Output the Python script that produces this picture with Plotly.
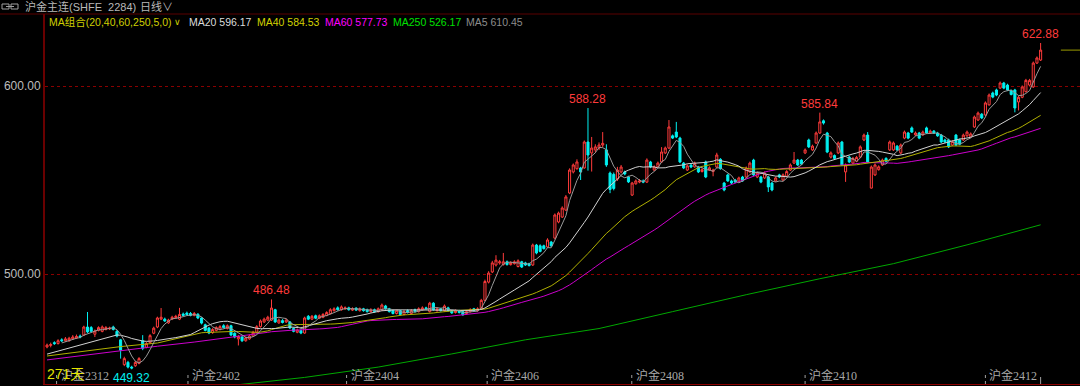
import pandas as pd
import plotly.graph_objects as go

# ---------------- data ----------------
opens = [
    461.2, 462.0, 463.5, 463.0, 465.0, 464.5, 464.5, 465.5, 466.0, 467.0,
    467.5, 471.8, 471.5, 468.0, 470.0, 469.5, 470.5, 470.8, 471.8, 469.5,
    465.0, 451.8, 453.0, 450.5, 451.2, 452.5, 464.5, 461.0, 463.5, 468.5,
    471.8, 476.0, 476.0, 474.0, 476.0, 476.8, 476.0, 478.7, 479.2, 479.0,
    478.0, 478.6, 476.6, 473.0, 471.3, 468.8, 470.0, 470.5, 472.5, 471.0,
    472.5, 468.5, 465.5, 466.5, 464.5, 465.5, 467.0, 469.0, 472.0, 474.5,
    475.5, 475.5, 481.0, 474.0, 475.2, 474.5, 474.5, 471.0, 469.0, 470.0,
    468.6, 477.5, 476.0, 477.8, 476.5, 477.0, 478.0, 479.0, 480.5, 482.0,
    481.0, 481.5, 482.0, 480.8, 481.8, 480.5, 481.5, 481.0, 480.0, 481.0,
    480.0, 481.0, 483.0, 481.5, 480.8, 479.0, 480.5, 478.5, 480.5, 479.0,
    481.0, 480.0, 481.0, 482.0, 480.0, 484.5, 480.5, 481.5, 480.5, 482.0,
    480.5, 479.5, 480.5, 480.0, 479.0, 480.0, 481.5, 480.5, 481.5, 486.0,
    495.7, 501.1, 504.8, 505.9, 505.0, 506.5, 505.0, 505.5, 504.0, 506.5,
    505.9, 505.5, 504.8, 515.4, 515.0, 515.0, 514.4, 517.0, 519.1, 527.7,
    530.3, 534.0, 543.1, 554.3, 556.0, 556.4, 556.4, 570.2, 564.4, 566.0,
    567.0, 568.6, 566.0, 553.7, 553.0, 550.5, 554.3, 554.3, 551.6, 542.0,
    548.0, 548.9, 549.5, 548.9, 559.6, 555.3, 557.0, 559.6, 564.4, 567.0,
    573.5, 575.5, 572.3, 559.0, 555.3, 557.9, 557.0, 556.9, 554.5, 559.6,
    555.3, 554.5, 556.9, 561.0, 548.4, 552.7, 549.5, 550.0, 549.5, 551.6,
    551.6, 554.3, 560.6, 551.6, 551.6, 551.1, 551.6, 548.4, 549.5, 552.7,
    550.0, 552.0, 555.3, 559.0, 560.6, 560.6, 564.4, 571.3, 566.0, 569.7,
    575.0, 581.5, 575.0, 562.2, 563.0, 564.4, 570.2, 554.3, 562.2, 559.0,
    560.0, 562.2, 571.3, 573.9, 545.7, 552.7, 555.5, 558.0, 561.5, 566.0,
    566.0, 568.0, 564.4, 572.3, 575.0, 577.7, 574.0, 575.0, 574.0, 577.7,
    575.0, 576.0, 575.0, 573.9, 571.3, 571.3, 568.6, 573.9, 571.3, 571.3,
    573.5, 573.0, 578.2, 581.9, 585.0, 584.6, 590.0, 596.3, 597.9, 598.9,
    601.6, 600.5, 597.5, 597.9, 591.5, 594.0, 597.0, 600.5, 599.5, 612.2,
    613.8,
]

closes = [
    462.2, 462.5, 463.0, 464.5, 464.5, 465.5, 465.8, 466.5, 466.8, 466.5,
    471.8, 469.2, 469.5, 469.7, 471.5, 471.8, 471.5, 471.2, 470.5, 467.0,
    459.5, 455.0, 450.5, 450.0, 453.0, 455.0, 460.5, 463.0, 467.2, 471.2,
    476.6, 477.0, 475.0, 475.5, 477.0, 477.5, 478.5, 478.0, 478.5, 478.0,
    479.0, 476.6, 473.9, 470.0, 468.6, 470.5, 471.5, 472.0, 471.5, 472.5,
    467.6, 466.5, 466.8, 464.5, 466.0, 467.0, 469.0, 472.0, 475.0, 476.0,
    477.0, 481.9, 474.5, 475.5, 474.2, 475.5, 471.3, 469.5, 470.2, 468.6,
    476.6, 476.0, 477.5, 476.5, 477.8, 478.5, 479.5, 481.0, 481.5, 481.0,
    482.5, 482.0, 481.0, 481.5, 480.8, 481.5, 480.5, 480.0, 481.0, 480.0,
    481.5, 483.5, 481.5, 480.0, 479.0, 480.5, 478.5, 480.0, 479.5, 480.5,
    480.0, 481.5, 482.0, 481.5, 484.5, 481.0, 481.5, 480.5, 483.0, 480.5,
    479.3, 480.5, 479.5, 478.3, 480.0, 481.0, 480.5, 481.5, 486.0, 496.0,
    500.5, 505.9, 507.4, 506.5, 506.5, 505.0, 506.0, 506.5, 507.0, 503.7,
    504.8, 504.5, 515.4, 511.2, 512.0, 513.5, 518.1, 515.0, 531.4, 532.4,
    535.1, 541.0, 555.3, 558.0, 559.6, 554.3, 570.2, 563.3, 567.0, 567.6,
    568.6, 569.5, 558.0, 545.0, 545.5, 555.3, 556.9, 553.2, 549.0, 548.4,
    549.5, 549.5, 548.9, 560.6, 556.9, 556.9, 559.0, 564.9, 567.0, 578.2,
    572.3, 572.9, 559.6, 556.4, 557.5, 556.9, 559.0, 554.3, 555.5, 551.6,
    556.5, 555.3, 563.3, 556.0, 544.7, 549.5, 548.4, 548.9, 551.1, 549.5,
    556.4, 559.0, 552.7, 553.7, 548.9, 553.7, 546.3, 544.7, 551.1, 551.6,
    552.7, 554.5, 558.0, 560.6, 558.0, 558.5, 566.0, 567.6, 568.0, 575.0,
    580.9, 580.3, 564.9, 564.4, 561.5, 569.7, 558.0, 558.0, 559.6, 561.5,
    562.0, 567.6, 573.9, 559.6, 556.9, 558.0, 557.0, 560.6, 560.0, 570.2,
    569.7, 566.0, 568.6, 575.5, 572.3, 575.5, 575.0, 572.3, 575.5, 575.0,
    576.0, 575.0, 573.5, 570.2, 570.2, 567.6, 570.5, 568.6, 569.0, 573.9,
    575.5, 574.5, 583.5, 585.6, 583.0, 591.0, 595.2, 594.1, 595.2, 601.6,
    598.9, 597.9, 595.5, 588.3, 594.0, 599.5, 603.0, 603.0, 612.2, 614.9,
    619.1,
]

highs = [
    463.0, 463.5, 464.2, 465.3, 465.8, 466.5, 466.6, 467.5, 467.8, 467.8,
    472.5, 479.8, 472.3, 470.5, 472.2, 472.6, 472.3, 472.0, 472.5, 470.2,
    465.5, 456.0, 453.8, 451.2, 453.8, 455.8, 467.5, 463.8, 468.0, 472.0,
    477.3, 481.9, 476.8, 476.2, 477.8, 478.3, 482.0, 479.5, 480.0, 479.8,
    479.8, 479.2, 477.0, 473.6, 471.8, 471.2, 472.2, 472.8, 473.3, 473.2,
    473.0, 469.0, 467.5, 467.0, 466.8, 467.8, 469.8, 472.8, 475.8, 476.8,
    477.8, 486.48, 481.5, 476.3, 476.0, 476.3, 475.0, 471.6, 471.0, 470.5,
    477.3, 478.2, 478.2, 478.4, 478.5, 479.2, 480.2, 481.8, 482.3, 482.8,
    483.3, 482.8, 482.6, 482.3, 482.4, 482.2, 482.0, 481.6, 481.8, 481.6,
    482.2, 484.3, 483.6, 482.0, 481.3, 481.2, 481.0, 480.8, 481.2, 481.3,
    481.6, 482.3, 482.8, 482.6, 485.2, 485.0, 482.3, 482.0, 483.8, 482.6,
    481.0, 481.2, 481.0, 480.5, 480.8, 481.8, 482.0, 482.3, 486.8, 497.0,
    501.5, 507.0, 510.0, 507.5, 511.2, 507.2, 506.8, 507.3, 507.8, 507.0,
    506.5, 506.0, 516.2, 516.0, 515.8, 515.6, 519.0, 517.6, 532.2, 533.2,
    536.0, 542.0, 556.2, 558.8, 561.0, 557.0, 571.0, 588.28, 572.9, 569.0,
    570.0, 575.5, 569.0, 554.5, 554.0, 557.0, 558.0, 555.0, 552.3, 549.0,
    550.3, 550.5, 550.3, 561.5, 560.2, 557.8, 559.8, 567.5, 567.8, 581.9,
    574.2, 580.9, 573.0, 559.6, 558.3, 558.5, 559.8, 557.5, 556.3, 560.3,
    557.3, 556.0, 564.5, 561.6, 549.0, 553.3, 550.2, 550.6, 551.8, 552.2,
    557.2, 559.8, 561.3, 554.5, 552.2, 554.5, 552.2, 549.0, 551.8, 553.3,
    553.5, 555.3, 558.8, 564.9, 561.2, 561.2, 566.8, 572.0, 568.8, 575.8,
    585.84, 582.2, 575.6, 565.2, 563.6, 570.5, 570.8, 558.8, 562.8, 562.3,
    562.8, 568.4, 574.7, 575.5, 557.7, 558.8, 557.8, 561.4, 562.1, 571.0,
    570.5, 568.6, 569.4, 576.3, 575.6, 578.5, 575.8, 575.6, 576.3, 578.4,
    576.8, 576.6, 575.6, 574.5, 572.0, 572.0, 571.3, 574.5, 572.0, 574.7,
    576.3, 575.3, 584.3, 586.4, 585.6, 591.8, 596.0, 597.0, 598.6, 602.4,
    602.2, 601.2, 598.1, 598.5, 594.8, 600.3, 603.8, 603.8, 613.0, 615.7,
    622.88,
]

lows = [
    460.5, 461.0, 462.3, 462.5, 463.8, 464.0, 464.0, 465.0, 465.5, 465.8,
    467.0, 468.5, 469.0, 466.5, 469.5, 469.0, 470.0, 470.2, 470.0, 466.3,
    455.0, 451.0, 449.8, 449.32, 450.6, 452.0, 459.5, 460.5, 463.0, 468.0,
    471.2, 475.5, 474.5, 473.5, 475.5, 476.2, 475.5, 477.5, 478.0, 477.5,
    477.5, 476.0, 473.2, 469.5, 468.0, 468.2, 469.5, 470.0, 471.0, 470.5,
    467.0, 465.8, 462.0, 463.8, 464.0, 465.0, 466.5, 468.5, 471.5, 474.0,
    475.0, 475.0, 474.0, 473.5, 473.7, 474.0, 470.8, 469.0, 468.5, 468.0,
    468.2, 475.5, 475.5, 476.0, 476.0, 476.5, 477.5, 478.5, 480.0, 480.5,
    480.5, 481.0, 480.5, 480.3, 480.3, 480.0, 480.0, 479.5, 479.5, 479.5,
    479.5, 480.5, 481.0, 479.5, 478.5, 478.5, 478.0, 478.0, 479.0, 478.5,
    479.5, 479.5, 480.5, 481.0, 479.5, 480.5, 480.0, 480.0, 480.0, 480.0,
    478.8, 479.0, 479.0, 477.8, 478.5, 479.5, 480.0, 480.0, 481.0, 485.5,
    495.0, 500.5, 504.0, 505.0, 504.5, 504.5, 504.5, 505.0, 503.5, 503.2,
    504.3, 504.0, 504.3, 510.5, 511.5, 513.0, 514.0, 514.5, 518.5, 527.0,
    529.8, 533.5, 542.5, 553.5, 555.5, 550.0, 556.0, 555.0, 554.5, 564.5,
    566.0, 567.5, 557.0, 543.0, 544.5, 549.5, 553.5, 552.5, 548.4, 541.5,
    547.5, 548.3, 548.3, 548.4, 556.3, 554.8, 556.5, 559.0, 563.8, 566.5,
    571.8, 572.3, 559.0, 555.8, 554.8, 556.3, 556.5, 553.7, 554.0, 551.0,
    554.8, 552.0, 556.3, 555.5, 544.0, 549.0, 547.8, 548.3, 549.0, 549.0,
    551.0, 553.8, 552.0, 551.0, 548.3, 550.5, 543.6, 544.0, 549.0, 551.0,
    549.5, 551.5, 554.8, 558.5, 557.5, 558.0, 563.8, 567.0, 565.5, 569.2,
    574.5, 579.5, 564.3, 561.5, 561.0, 563.8, 557.5, 549.0, 559.0, 558.5,
    559.5, 561.6, 570.7, 559.0, 545.5, 552.2, 555.0, 557.5, 559.5, 565.5,
    565.5, 565.5, 563.8, 571.7, 571.7, 575.0, 573.5, 571.7, 573.5, 574.5,
    574.5, 574.5, 573.0, 569.7, 569.7, 567.0, 568.0, 568.0, 568.5, 570.8,
    573.0, 572.5, 577.7, 581.4, 582.4, 584.0, 589.5, 593.5, 594.6, 598.4,
    598.3, 597.3, 595.0, 586.0, 587.0, 593.5, 596.5, 600.0, 599.0, 611.7,
    613.3,
]

# moving-average values before enough candles exist
ma20_head_idx = [0, 6, 12, 18]
ma20_head_val = [457.4, 460.6, 463.8, 467.4]
ma40_head_idx = [0, 10, 20, 30, 38]
ma40_head_val = [456.4, 459.0, 461.4, 463.3, 467.0]
ma60_head_idx = [0, 10, 20, 30, 40, 50, 58]
ma60_head_val = [454.3, 456.8, 459.3, 461.6, 463.8, 466.2, 468.3]
ma250_idx = [50, 70, 90, 110, 130, 150, 170, 190, 210, 230, 250, 270]
ma250_val = [440.7, 445.0, 450.5, 457.5, 465.0, 471.0, 480.0, 489.0, 497.5, 505.5, 515.5, 526.17]

# header legend
legend_names = ["MA20", "MA40", "MA60", "MA250", "MA5"]
legend_values = [596.17, 584.53, 577.73, 526.17, 610.45]

# contract-roll labels on the time axis
roll_labels = ["沪金2312", "沪金2402", "沪金2404", "沪金2406", "沪金2408", "沪金2410", "沪金2412"]
roll_idx = [2.6, 38.3, 81.4, 119.6, 158.9, 206.0, 255.0]

peak_idx = [61, 147, 210, 270]
trough_idx = [23]
day_count = "271天"

# ---------------- styling ----------------
W, H = 1080, 386
ML, MR, MT, MB = 45, 0, 14, 2
PW, PH = W - ML - MR, H - MT - MB

def px(xp):
    return (xp - ML) / PW

def py(yp):
    return (H - MB - yp) / PH

UP = "#ff3b3b"
DOWN = "#00f0f0"
C_MA5 = "#9a9a9a"
C_MA20 = "#d2d2d2"
C_MA40 = "#b0b000"
C_MA60 = "#cc00cc"
C_MA250 = "#00a800"
DARKRED = "#6a0000"
HDR_FONT = "Liberation Sans, Noto Sans CJK SC"

n = len(closes)
idx = list(range(n))
s = pd.Series(closes)

def ma_trace(window, head_idx, head_val):
    r = s.rolling(window).mean()
    xs = list(head_idx) + idx[window - 1:]
    ys = list(head_val) + r.iloc[window - 1:].tolist()
    return xs, ys

fig = go.Figure()

fig.add_trace(go.Scatter(x=ma250_idx, y=ma250_val, mode="lines", line=dict(color=C_MA250, width=1),
                         hoverinfo="skip", showlegend=False))
for w, hi, hv, col in [(60, ma60_head_idx, ma60_head_val, C_MA60),
                       (40, ma40_head_idx, ma40_head_val, C_MA40),
                       (20, ma20_head_idx, ma20_head_val, C_MA20)]:
    xs, ys = ma_trace(w, hi, hv)
    fig.add_trace(go.Scatter(x=xs, y=ys, mode="lines", line=dict(color=col, width=1),
                             hoverinfo="skip", showlegend=False))
ma5 = s.rolling(5).mean()
fig.add_trace(go.Scatter(x=idx[4:], y=ma5.iloc[4:].tolist(), mode="lines",
                         line=dict(color=C_MA5, width=1), hoverinfo="skip", showlegend=False))

fig.add_trace(go.Candlestick(
    x=idx, open=opens, high=highs, low=lows, close=closes,
    increasing=dict(line=dict(color=UP, width=1), fillcolor="#000000"),
    decreasing=dict(line=dict(color=DOWN, width=1), fillcolor=DOWN),
    whiskerwidth=0, hoverinfo="skip", showlegend=False,
))

ann = []
for i in peak_idx:
    ann.append(dict(x=i, y=highs[i], xref="x", yref="y", text=f"{highs[i]:.2f}",
                    showarrow=False, yanchor="bottom", xanchor="center",
                    font=dict(family="Liberation Sans", size=12, color=UP)))
for i in trough_idx:
    ann.append(dict(x=i, y=lows[i], xref="x", yref="y", text=f"{lows[i]:.2f}",
                    showarrow=False, yanchor="top", xanchor="center",
                    font=dict(family="Liberation Sans", size=12, color=DOWN)))

shapes = []
for lab, xi in zip(roll_labels, roll_idx):
    ann.append(dict(x=xi, y=0, xref="x", yref="paper", text=lab, showarrow=False,
                    xanchor="left", yanchor="bottom", xshift=2, yshift=-1,
                    font=dict(family="Liberation Serif, Noto Sans CJK SC", size=12, color="#a8a8a8")))
    shapes.append(dict(type="line", xref="x", yref="paper", x0=xi, x1=xi, y0=0, y1=12 / PH,
                       line=dict(color="#a0a0a0", width=1, dash="dot")))

ann.append(dict(x=px(45), y=py(384), xref="paper", yref="paper", text=day_count, showarrow=False,
                xanchor="left", yanchor="bottom", yshift=0,
                font=dict(family=HDR_FONT, size=14, color="#e6e600")))

# header row 1
ann.append(dict(x=px(23), y=py(6), xref="paper", yref="paper", text="沪金主连(SHFE  2284)",
                showarrow=False, xanchor="left", yanchor="middle",
                font=dict(family=HDR_FONT, size=11, color="#b8b8b8")))
ann.append(dict(x=px(138), y=py(6), xref="paper", yref="paper", text="日线∨",
                showarrow=False, xanchor="left", yanchor="middle",
                font=dict(family=HDR_FONT, size=11, color="#b8b8b8")))
# header row 2
ann.append(dict(x=px(47), y=py(21.5), xref="paper", yref="paper", text="MA组合(20,40,60,250,5,0)",
                showarrow=False, xanchor="left", yanchor="middle",
                font=dict(family=HDR_FONT, size=10.5, color="#cfcf00")))
ann.append(dict(x=px(172), y=py(22), xref="paper", yref="paper", text="∨",
                showarrow=False, xanchor="left", yanchor="middle",
                font=dict(family="Liberation Sans", size=9, color="#cfcf00")))
leg_x = [187, 255, 323, 391, 464]
leg_col = ["#dcdcdc", "#d2d200", "#ff00ff", "#00e000", "#8c8c8c"]
for name, val, xx, col in zip(legend_names, legend_values, leg_x, leg_col):
    ann.append(dict(x=px(xx), y=py(21.5), xref="paper", yref="paper", text=f"{name} {val:.2f}",
                    showarrow=False, xanchor="left", yanchor="middle",
                    font=dict(family="Liberation Sans", size=10.5, color=col)))

# frame lines
shapes.append(dict(type="line", xref="paper", yref="paper", x0=px(0), x1=px(W), y0=1, y1=1,
                   line=dict(color="#5a0000", width=1)))
# link icon
shapes.append(dict(type="rect", xref="paper", yref="paper", x0=px(2), x1=px(9), y0=py(9), y1=py(4),
                   line=dict(color="#a0a0a0", width=1)))
shapes.append(dict(type="rect", xref="paper", yref="paper", x0=px(11), x1=px(18), y0=py(9), y1=py(4),
                   line=dict(color="#a0a0a0", width=1)))
shapes.append(dict(type="line", xref="paper", yref="paper", x0=px(6), x1=px(14), y0=py(6.5), y1=py(6.5),
                   line=dict(color="#a0a0a0", width=1)))
# last-price marker at right edge and end tick
shapes.append(dict(type="line", xref="x", yref="y", x0=275.5, x1=280.7, y0=closes[-1], y1=closes[-1],
                   line=dict(color="#9a9a00", width=1)))
shapes.append(dict(type="line", xref="x", yref="paper", x0=n - 1, x1=n - 1, y0=0, y1=7 / PH,
                   line=dict(color="#a0a0a0", width=1)))

fig.update_layout(
    width=W, height=H, autosize=False,
    margin=dict(l=ML, r=MR, t=MT, b=MB, pad=0),
    paper_bgcolor="#000000", plot_bgcolor="#000000",
    boxgap=0.2,
    xaxis=dict(range=[-0.55, 280.7], showticklabels=False, showgrid=False, zeroline=False,
               showline=True, linecolor="#8b0000", linewidth=1, rangeslider=dict(visible=False),
               fixedrange=True),
    yaxis=dict(range=[441.5, 638.3], tickvals=[500, 600], ticktext=["500.00", "600.00"],
               showgrid=True, gridcolor="#8b0000", griddash="dot", gridwidth=1,
               zeroline=False, showline=True, linecolor=DARKRED, linewidth=2,
               ticks="", tickfont=dict(family="Liberation Sans", size=12, color="#bdbdbd"),
               fixedrange=True),
    annotations=ann, shapes=shapes, showlegend=False,
)

fig.write_html("out.html", config=dict(displayModeBar=False))
